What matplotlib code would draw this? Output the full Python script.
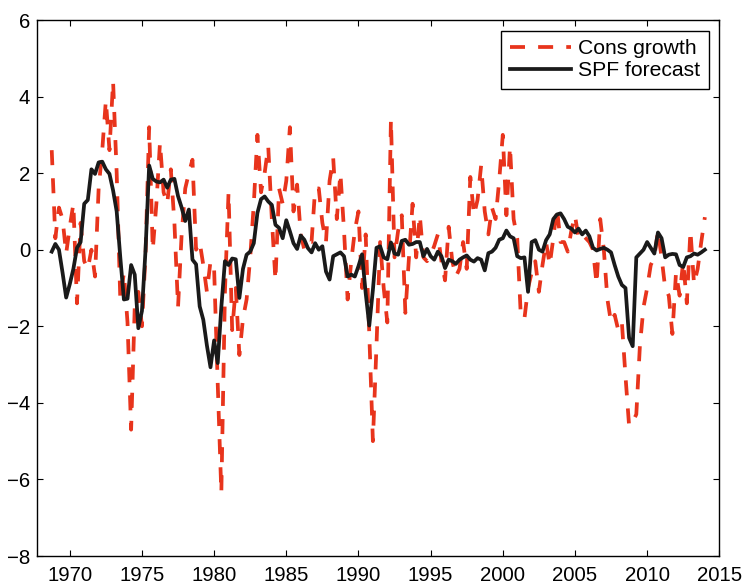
import numpy as np
import matplotlib
matplotlib.use('Agg')
import matplotlib.pyplot as plt

plt.rcParams['font.family'] = ['Liberation Sans', 'DejaVu Sans']

# quarterly series, first observation 1968Q4
start_year = 1968.75

cons_growth = [
    2.6, 0.3, 1.1, 0.8, -0.1, 0.6, 1.2, -1.4, 0.7, -0.3,
    -0.5, 0.0, -0.7, 1.6, 2.6, 3.9, 2.6, 4.4, 2.0, -1.3,
    -0.6, -1.9, -4.7, -1.5, -1.1, -2.0, -0.1, 3.2, 0.0, 1.2,
    2.8, 1.5, 1.2, 2.1, 0.7, -1.5, 0.4, 1.6, 2.0, 2.35,
    0.0, 0.2, -0.4, -1.1, -0.3, -0.5, -3.5, -6.35, -1.1, 1.5,
    -2.1, -1.0, -2.75, -1.8, -1.3, -0.2, 1.2, 3.0, 1.5, 2.0,
    2.7, 0.8, -0.8, 1.6, 1.2, 1.8, 3.2, 1.0, 1.7, 0.4,
    0.0, 0.2, 0.2, 1.6, 1.6, 0.7, 0.2, 1.8, 2.4, 0.8,
    2.0, 0.5, -1.3, -0.3, 0.5, 1.0, -1.0, 0.4, -2.2, -5.0,
    -2.5, 0.2, -1.0, -1.9, 3.4, -0.2, 0.5, 0.9, -1.65, -0.2,
    1.2, -0.2, 0.9, -0.2, -0.3, -0.15, 0.1, 0.4, -0.3, -0.8,
    0.6, -0.3, -0.7, -0.5, 0.2, -0.5, 1.9, 0.9, 1.3, 2.2,
    1.0, 0.4, 1.1, 0.8, 1.8, 3.0, 0.9, 2.7, 0.8, 0.3,
    -1.75, -1.8, -1.0, -0.6, -0.3, -1.1, -0.4, 0.2, -0.4, 0.3,
    1.1, 0.2, 0.2, -0.05, 0.5, 0.9, 0.3, 0.4, 0.3, 0.2,
    0.0, -0.9, 0.8, 0.0, -1.3, -1.9, -1.7, -2.1, -1.9, -3.3,
    -4.6, -4.5, -4.3, -2.5, -1.5, -1.0, -0.4, -0.2, 0.5, -0.2,
    -1.0, -1.2, -2.2, -0.6, -1.2, -0.3, -1.4, 0.5, -0.9, -0.5,
    0.2, 0.85,
]

spf_forecast = [
    -0.05, 0.15, 0.0, -0.6, -1.25, -0.9, -0.5, 0.05, 0.2, 1.2,
    1.3, 2.1, 1.98, 2.28, 2.3, 2.1, 1.98, 1.55, 1.0, -0.2,
    -1.3, -1.28, -0.4, -0.65, -2.05, -1.6, 0.0, 2.2, 1.85, 1.78,
    1.76, 1.83, 1.62, 1.83, 1.85, 1.4, 1.1, 0.75, 1.05, -0.26,
    -0.38, -1.48, -1.83, -2.5, -3.07, -2.37, -2.96, -1.5, -0.3, -0.4,
    -0.23, -0.25, -1.26, -0.5, -0.13, -0.05, 0.17, 0.96, 1.32, 1.39,
    1.26, 1.17, 0.65, 0.57, 0.3, 0.77, 0.48, 0.17, 0.02, 0.37,
    0.26, 0.04, -0.07, 0.17, 0.0, 0.09, -0.57, -0.78, -0.17, -0.12,
    -0.07, -0.17, -0.7, -0.65, -0.7, -0.43, -0.12, -1.13, -1.98, -1.05,
    0.05, 0.09, -0.2, -0.25, 0.19, -0.1, -0.13, 0.23, 0.26, 0.13,
    0.15, 0.2, 0.2, -0.17, 0.02, -0.17, -0.26, -0.05, -0.17, -0.48,
    -0.26, -0.3, -0.37, -0.26, -0.2, -0.15, -0.26, -0.31, -0.22, -0.26,
    -0.54, -0.09, -0.05, 0.05, 0.26, 0.3, 0.5, 0.35, 0.3, -0.17,
    -0.22, -0.2, -1.1, 0.2, 0.25, 0.0, -0.05, 0.25, 0.4, 0.8,
    0.92, 0.95, 0.8, 0.6, 0.55, 0.45, 0.55, 0.4, 0.5, 0.35,
    0.05, -0.02, 0.02, 0.05, 0.0, -0.07, -0.4, -0.7, -0.92, -1.0,
    -2.3, -2.52, -0.2, -0.1, 0.0, 0.2, 0.05, -0.1, 0.45, 0.3,
    -0.2, -0.13, -0.11, -0.12, -0.4, -0.45, -0.2, -0.17, -0.1, -0.13,
    -0.07, 0.0,
]

x_ticks = list(range(1970, 2016, 5))
y_ticks = list(range(-8, 7, 2))

years = start_year + 0.25 * np.arange(len(cons_growth))

fig = plt.figure(figsize=(7.45, 5.87), dpi=100)
ax = fig.add_axes([37.3 / 745, 1 - 556 / 587, (719.3 - 37.3) / 745, (556 - 20) / 587])

ax.plot(years, cons_growth, color='#e8341c', lw=2.7, ls=(0, (4, 3.5)), label='Cons growth')
ax.plot(years, spf_forecast, color='#1a1a1a', lw=2.7, label='SPF forecast')

ax.set_xlim(1967.75, 2015)
ax.set_ylim(-8, 6)
ax.set_xticks(x_ticks)
ax.set_yticks(y_ticks)
ax.tick_params(direction='in', top=True, right=True, length=4.5, width=0.8, labelsize=14.7)
ax.tick_params(axis='x', pad=7)
ax.tick_params(axis='y', pad=5)
for s in ax.spines.values():
    s.set_linewidth(1.0)

leg = ax.legend(loc='upper right', fontsize=15.2, handlelength=2.9, handletextpad=0.35,
                borderaxespad=0.5, fancybox=False, edgecolor='black', framealpha=1,
                labelspacing=0.15, borderpad=0.4)
leg.get_frame().set_linewidth(1.0)

fig.savefig('out.png', dpi=100)
